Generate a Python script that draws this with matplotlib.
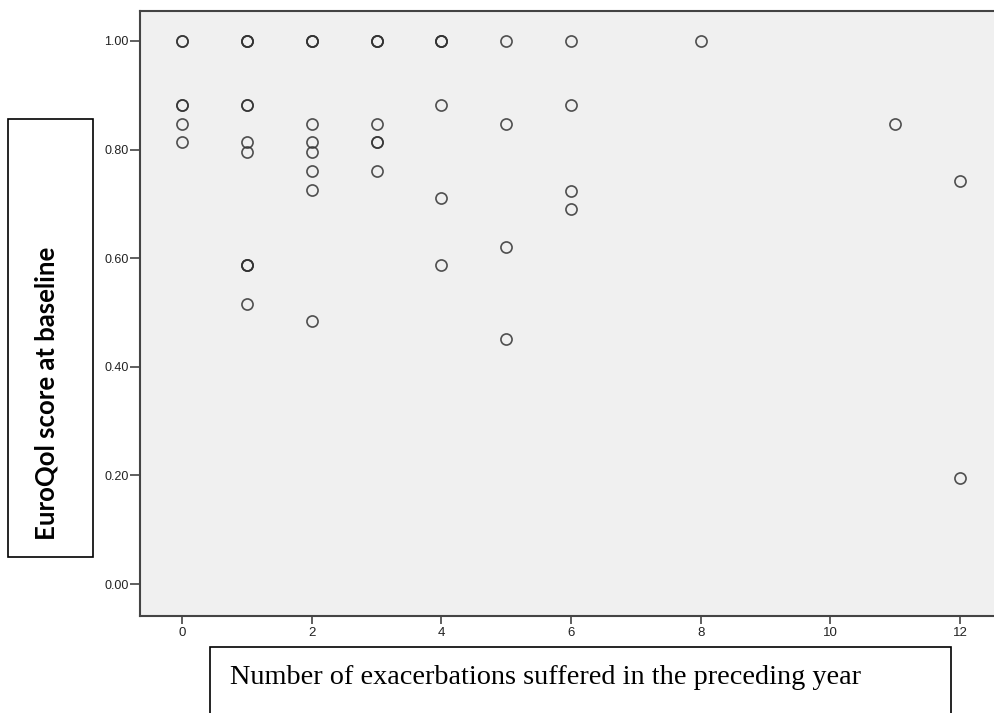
import matplotlib
matplotlib.use("Agg")
import matplotlib.pyplot as plt
from matplotlib.patches import Rectangle

# exacerbations in preceding year vs EuroQol score (repeated values = overlapping points)
exacerbations = ([0] * 6 + [1] * 11 + [2] * 9 + [3] * 7 + [4] * 6 +
                 [5] * 4 + [6] * 4 + [8] + [11] + [12] * 2)
euroqol = [
    1.000, 1.000, 0.883, 0.883, 0.848, 0.814,                               # 0
    1.000, 1.000, 1.000, 0.883, 0.883, 0.814, 0.796, 0.587, 0.587, 0.587, 0.516,  # 1
    1.000, 1.000, 1.000, 0.848, 0.814, 0.796, 0.760, 0.725, 0.485,          # 2
    1.000, 1.000, 1.000, 0.848, 0.814, 0.814, 0.760,                        # 3
    1.000, 1.000, 1.000, 0.883, 0.710, 0.587,                               # 4
    1.000, 0.848, 0.620, 0.451,                                             # 5
    1.000, 0.883, 0.724, 0.691,                                             # 6
    1.000,                                                                  # 8
    0.848,                                                                  # 11
    0.743, 0.195,                                                           # 12
]

x_ticks = [0, 2, 4, 6, 8, 10, 12]
y_ticks = [0.0, 0.2, 0.4, 0.6, 0.8, 1.0]
y_ticklabels = ["0.00", "0.20", "0.40", "0.60", "0.80", "1.00"]

fig = plt.figure(figsize=(9.95, 7.13), dpi=100)
W, H = 995, 713
ax = fig.add_axes([140 / W, (H - 616) / H, 1 - 140 / W, (616 - 11) / H])
ax.set_facecolor("#f0f0f0")

ax.plot(exacerbations, euroqol, linestyle="none", marker="o", markersize=8.0,
        markerfacecolor="none", markeredgecolor="#333333", markeredgewidth=1.2,
        alpha=0.85)

ax.set_xlim(-0.648, 12.54)
ax.set_ylim(-0.0589, 1.0552)
ax.set_xticks(x_ticks)
ax.set_yticks(y_ticks)
ax.set_yticklabels(y_ticklabels)

for side in ["left", "bottom", "top"]:
    ax.spines[side].set_color("#444444")
    ax.spines[side].set_linewidth(1.5)
ax.spines["right"].set_visible(False)

ax.tick_params(axis="y", direction="out", length=7, width=1.2, color="#444444",
               pad=1, labelsize=9, labelcolor="#222222")
ax.tick_params(axis="x", direction="out", length=6, width=1.2, color="#444444",
               pad=2, labelsize=9.5, labelcolor="#222222")
for lbl in ax.get_xticklabels():
    lbl.set_family(["Liberation Sans Narrow", "Liberation Sans"])
for lbl in ax.get_yticklabels():
    lbl.set_family("Liberation Sans")

# boxed axis titles, as pasted in the source document
fig.patches.append(Rectangle((8 / W, (H - 557) / H), 85 / W, 438 / H,
                             transform=fig.transFigure, fill=False,
                             edgecolor="black", linewidth=1.2))
fig.text(47 / W, (H - 393) / H, "EuroQol score at baseline", rotation=90,
         ha="center", va="center", fontsize=18.5, fontweight="bold",
         family="Lato")

fig.patches.append(Rectangle((210 / W, -0.05), 741 / W, (H - 647) / H + 0.05,
                             transform=fig.transFigure, fill=False,
                             edgecolor="black", linewidth=1.2))
fig.text(230 / W, (H - 677) / H, "Number of exacerbations suffered in the preceding year",
         ha="left", va="center", fontsize=20.3, family="Liberation Serif")

fig.savefig("out.png", dpi=100)
